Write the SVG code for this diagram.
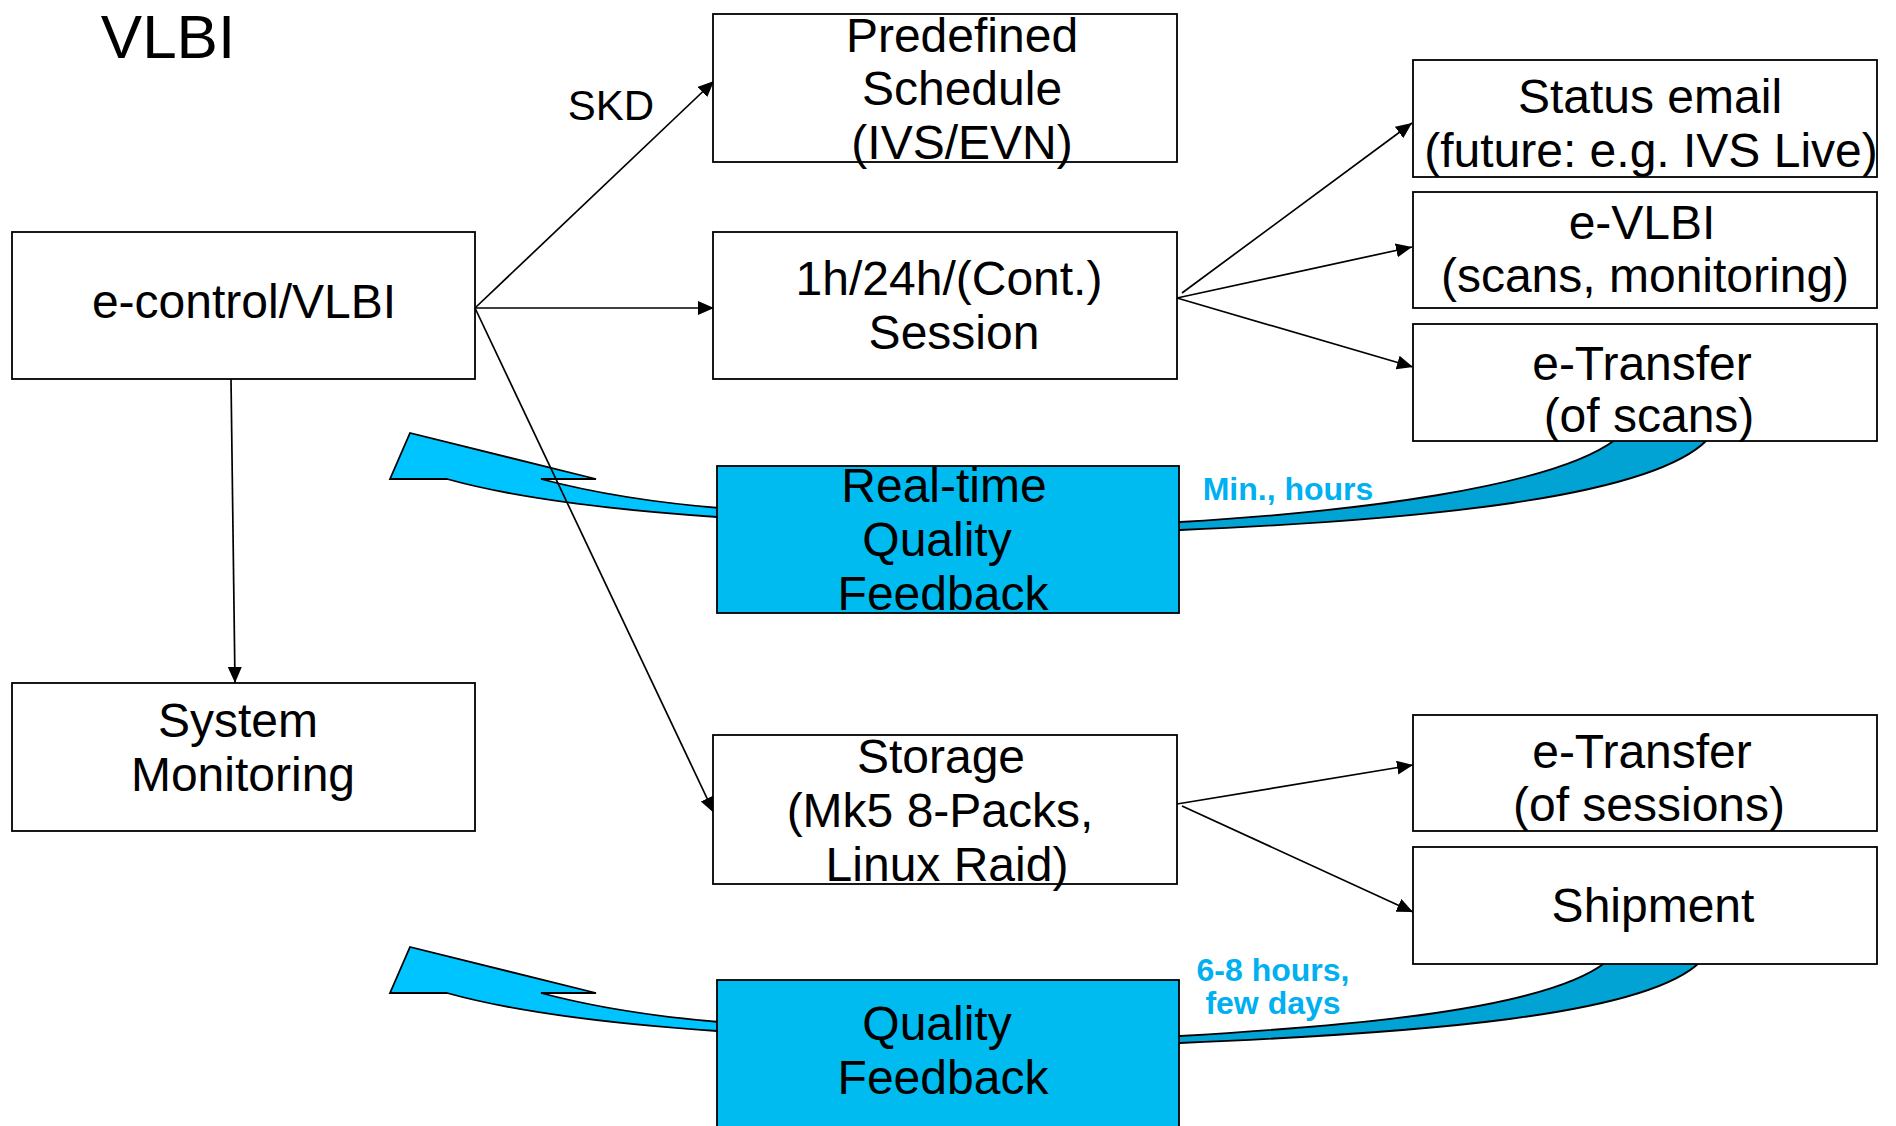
<svg xmlns="http://www.w3.org/2000/svg" width="1896" height="1126" viewBox="0 0 1896 1126">
<style>
.box{fill:#ffffff;stroke:#000000;stroke-width:1.8}
.blue{fill:#00BBF0;stroke:#000000;stroke-width:1.8}
.t{font-family:"Liberation Sans",Arial,sans-serif;font-size:48px;fill:#000000;text-anchor:middle}
.lbl{font-family:"Liberation Sans",Arial,sans-serif;font-size:32px;font-weight:bold;fill:#00B0F0;text-anchor:middle}
.conn{stroke:#000000;stroke-width:1.7;fill:none;marker-end:url(#ah)}
.arrL{fill:#00C4FF;stroke:#000000;stroke-width:1.8;stroke-linejoin:miter}
.arrR{fill:#00A3D4;stroke:#000000;stroke-width:1.8}
</style>
<defs>
<marker id="ah" markerUnits="userSpaceOnUse" markerWidth="17" markerHeight="15" refX="16" refY="7" orient="auto">
<path d="M0,0 L16,7 L0,14 Z" fill="#000000"/>
</marker>
</defs>
<rect x="0" y="0" width="1896" height="1126" fill="#ffffff"/>
<text x="168" y="58" style="font-family:'Liberation Sans',Arial,sans-serif;font-size:62px;text-anchor:middle">VLBI</text>
<text x="611" y="120" style="font-family:'Liberation Sans',Arial,sans-serif;font-size:42px;text-anchor:middle">SKD</text>

<g id="feedback-arrows">
<path class="arrR" d="M1170,522 L1180,522 C1350,512 1550,488 1615,440 L1707,440 C1650,498 1420,520 1180,530 L1170,530 Z"/>
<path class="arrL" d="M390,479 L410,433 L596,479 L541,479 Q620,500 725,508.5 L725,517 L717,517 Q540,505 447,479 Z"/>
<path class="arrR" d="M1170,1036 L1180,1036 C1350,1026 1545,1010 1606,962 L1700,962 C1645,1016 1420,1033 1180,1043 L1170,1043 Z"/>
<path class="arrL" d="M390,993 L410,947 L596,993 L541,993 Q620,1014 725,1022.5 L725,1031 L717,1031 Q540,1019 447,993 Z"/>
</g>

<g id="connectors">
<line class="conn" x1="475" y1="308" x2="714" y2="81"/>
<line class="conn" x1="475" y1="308" x2="714" y2="308"/>
<line class="conn" x1="475" y1="308" x2="714" y2="813"/>
<line class="conn" x1="231" y1="379" x2="235" y2="683"/>
<line class="conn" x1="1182" y1="293" x2="1412" y2="123"/>
<line class="conn" x1="1177" y1="298" x2="1412" y2="247"/>
<line class="conn" x1="1177" y1="298" x2="1413" y2="367"/>
<line class="conn" x1="1177" y1="804" x2="1413" y2="765"/>
<line class="conn" x1="1182" y1="806" x2="1413" y2="912"/>
</g>

<g id="econtrol">
<rect class="box" x="12" y="232" width="463" height="147"/>
<text class="t" x="244" y="318">e-control/VLBI</text>
</g>
<g id="sysmon">
<rect class="box" x="12" y="683" width="463" height="148"/>
<text class="t" x="238" y="737">System</text>
<text class="t" x="243" y="791">Monitoring</text>
</g>
<g id="schedule">
<rect class="box" x="713" y="14" width="464" height="148"/>
<text class="t" x="962" y="52">Predefined</text>
<text class="t" x="962" y="105">Schedule</text>
<text class="t" x="962" y="159">(IVS/EVN)</text>
</g>
<g id="session">
<rect class="box" x="713" y="232" width="464" height="147"/>
<text class="t" x="949" y="295">1h/24h/(Cont.)</text>
<text class="t" x="954" y="349">Session</text>
</g>
<g id="realtime-qf">
<rect class="blue" x="717" y="466" width="462" height="147"/>
<text class="t" x="944" y="502">Real-time</text>
<text class="t" x="937" y="556">Quality</text>
<text class="t" x="943" y="610">Feedback</text>
</g>
<g id="storage">
<rect class="box" x="713" y="735" width="464" height="149"/>
<text class="t" x="941" y="773">Storage</text>
<text class="t" x="940" y="827">(Mk5 8-Packs,</text>
<text class="t" x="947" y="881">Linux Raid)</text>
</g>
<g id="qf">
<rect class="blue" x="717" y="980" width="462" height="170"/>
<text class="t" x="937" y="1040">Quality</text>
<text class="t" x="943" y="1094">Feedback</text>
</g>
<g id="status">
<rect class="box" x="1413" y="60" width="464" height="117"/>
<text class="t" x="1650" y="113">Status email</text>
<text class="t" x="1651" y="167">(future: e.g. IVS Live)</text>
</g>
<g id="evlbi">
<rect class="box" x="1413" y="192" width="464" height="116"/>
<text class="t" x="1642" y="239">e-VLBI</text>
<text class="t" x="1645" y="292">(scans, monitoring)</text>
</g>
<g id="etransfer-scans">
<rect class="box" x="1413" y="324" width="464" height="117"/>
<text class="t" x="1642" y="380">e-Transfer</text>
<text class="t" x="1649" y="432">(of scans)</text>
</g>
<g id="etransfer-sessions">
<rect class="box" x="1413" y="715" width="464" height="116"/>
<text class="t" x="1642" y="768">e-Transfer</text>
<text class="t" x="1649" y="821">(of sessions)</text>
</g>
<g id="shipment">
<rect class="box" x="1413" y="847" width="464" height="117"/>
<text class="t" x="1653" y="922">Shipment</text>
</g>
<g id="labels">
<text class="lbl" x="1288" y="500">Min., hours</text>
<text class="lbl" x="1273" y="981">6-8 hours,</text>
<text class="lbl" x="1273" y="1014">few days</text>
</g>
</svg>
